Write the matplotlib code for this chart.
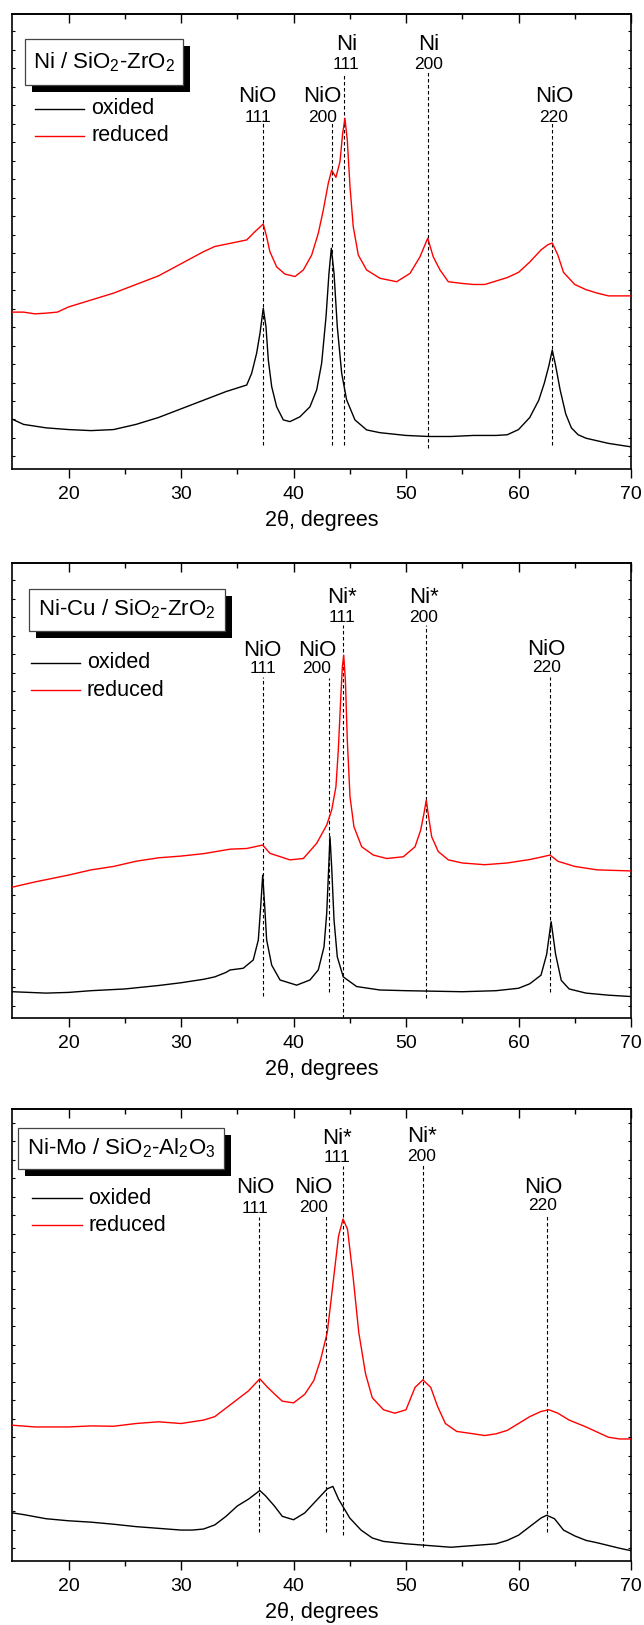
import matplotlib
matplotlib.use('Agg')
import matplotlib.pyplot as plt
from matplotlib.patches import Rectangle
import numpy as np

plt.rcParams['font.family'] = ['Liberation Sans', 'DejaVu Sans']
plt.rcParams['mathtext.fontset'] = 'custom'
plt.rcParams['mathtext.rm'] = 'Liberation Sans'
plt.rcParams['mathtext.it'] = 'Liberation Sans:italic'

# ---------------- data (2theta in degrees, intensity in arbitrary units) ----------------
p1_ox_x = [15, 16, 18, 20, 22, 24, 26, 28, 30, 32, 34, 35.84, 36.28, 36.72, 37.02, 37.31, 37.55, 37.76, 38.06,
           38.5, 39.09, 39.68, 40.57, 41.46, 42.06, 42.5, 42.89, 43.15, 43.36, 43.6, 43.89, 44.28, 44.72, 45.46,
           46.5, 47.68, 50, 52, 54, 56, 58, 59, 60, 61, 61.8, 62.3, 62.7, 63.0, 63.3, 63.7, 64.2, 64.7, 65.3,
           66, 68, 70]
p1_ox_y = [145, 130, 120, 115, 112, 115, 130, 150, 175, 200, 225, 244, 278, 336, 394, 466, 413, 316, 239,
           181, 143, 138, 152, 181, 230, 307, 442, 567, 640, 567, 413, 278, 201, 143,
           114, 106, 98, 95, 95, 98, 98, 100, 115, 150, 200, 250, 300, 345, 300, 230, 160, 120, 100,
           90, 75, 65]

p1_red_x = [15, 16, 17, 18, 19, 20, 22, 24, 26, 28, 30, 32, 33, 34.36, 35.84, 36.57, 37.31, 37.61, 37.9, 38.5,
            39.24, 40.13, 40.87, 41.61, 42.2, 42.65, 43.09, 43.39, 43.77, 44.13, 44.37, 44.57, 44.78, 45.02,
            45.31, 45.76, 46.5, 47.68, 49.17, 50.35, 51.24, 51.93, 52.42, 53.02, 53.76, 55, 56, 57, 58, 59,
            60, 61, 62, 62.6, 63.0, 63.5, 64, 65, 66, 67, 68, 70]
p1_red_y = [455, 455, 450, 452, 455, 470, 490, 510, 535, 560, 595, 630, 645, 654, 664, 688, 710, 673, 630, 586,
            565, 558, 577, 620, 683, 751, 828, 866, 845, 891, 973, 1016, 953, 818,
            702, 620, 577, 553, 543, 567, 615, 669, 615, 577, 543, 538, 535, 535, 545, 555,
            570, 600, 635, 650, 655, 620, 570, 535, 520, 510, 502, 502]

p2_ox_x = [15, 18, 20, 22, 25, 28, 30, 32, 33, 34, 34.36, 35.53, 36.42, 36.87, 37.08, 37.26, 37.44, 37.61, 38.06,
           38.8, 40.28, 41.46, 42.2, 42.71, 42.95, 43.13, 43.24, 43.39, 43.6, 43.89, 44.42, 45.61, 47.68, 50,
           55, 58, 60, 61, 62, 62.5, 62.9, 63.3, 63.8, 64.5, 66, 68, 70]
p2_ox_y = [77, 73, 75, 80, 85, 95, 103, 113, 120, 133, 140, 145, 169, 227, 323, 415, 323, 227, 154,
           111, 96, 111, 140, 207, 304, 439, 526, 439, 285, 178, 120, 92, 82, 80,
           77, 80, 87, 100, 125, 185, 280, 185, 110, 85, 73, 67, 63]

p2_red_x = [15, 17, 20, 22, 24, 26, 28, 30, 32, 34.36, 35.84, 37.26, 37.9, 39.68, 40.87, 42.06, 42.95, 43.39,
            43.77, 43.98, 44.19, 44.34, 44.46, 44.61, 44.78, 45.02, 45.37, 46.06, 47.09, 48.28, 49.76, 50.8,
            51.3, 51.6, 51.8, 52.01, 52.28, 52.87, 53.76, 55, 57, 59, 61, 62, 62.8, 63.5, 65, 67, 70]
p2_red_y = [380, 395, 415, 430, 440, 455, 465, 470, 477, 490, 492, 502, 478, 459, 463, 507, 560, 603,
            671, 777, 922, 1018, 1052, 980, 806, 642, 555, 497, 473, 463, 468, 497,
            545, 594, 632, 584, 526, 483, 459, 450, 445, 450, 460, 467, 473, 455, 440, 430, 427]

p3_ox_x = [15, 16, 18, 20, 22, 24, 26, 28, 30, 31, 32, 33, 34, 35, 36, 37.0, 37.5, 38.3, 39, 40, 41, 42, 43.0,
           43.5, 44, 45, 46, 47, 48, 50, 52, 54, 56, 58, 59, 60, 61, 62, 62.5, 63.2, 64, 65, 66, 67, 68, 69, 70]
p3_ox_y = [140, 135, 123, 117, 113, 107, 100, 95, 90, 90, 93, 105, 130, 160, 180, 205, 190, 160, 130, 120, 140, 175, 210,
           217, 180, 125, 90, 67, 57, 50, 45, 40, 45, 50, 60, 75, 100, 125, 133, 123, 90, 73, 60, 53, 45, 37, 30]

p3_red_x = [15, 17, 20, 22, 24, 26, 28, 30, 32, 33, 34, 35, 36, 37.0, 37.7, 38.5, 39, 40, 41, 41.8, 42.4, 43.0,
            43.5, 44.0, 44.4, 44.8, 45.3, 45.8, 46.4, 47, 48, 49, 50, 50.8, 51.5, 52.2, 52.8, 53.5, 54.5, 56,
            57, 58, 59, 60, 61, 62, 62.7, 63.5, 64.5, 66, 67, 68, 69, 70]
p3_red_y = [395, 390, 390, 393, 392, 400, 405, 400, 410, 420, 445, 470, 495, 530, 505, 480, 465, 460, 485, 525, 585, 665,
            805, 945, 995, 965, 825, 665, 545, 475, 440, 430, 440, 505, 527, 505, 450, 400, 377, 370,
            365, 370, 380, 400, 420, 435, 440, 430, 410, 390, 375, 360, 355, 355]

titles = [r'Ni / SiO$_2$-ZrO$_2$', r'Ni-Cu / SiO$_2$-ZrO$_2$', r'Ni-Mo / SiO$_2$-Al$_2$O$_3$']
series_names = ['oxided', 'reduced']

# reference reflections per panel: phase, hkl, 2theta
p1_refl_phase = ['NiO', 'NiO', 'Ni', 'Ni', 'NiO']
p1_refl_hkl = ['111', '200', '111', '200', '220']
p1_refl_pos = [37.3, 43.4, 44.5, 51.95, 63.0]

p2_refl_phase = ['NiO', 'NiO', 'Ni*', 'Ni*', 'NiO']
p2_refl_hkl = ['111', '200', '111', '200', '220']
p2_refl_pos = [37.26, 43.17, 44.42, 51.8, 62.8]

p3_refl_phase = ['NiO', 'NiO', 'Ni*', 'Ni*', 'NiO']
p3_refl_hkl = ['111', '200', '111', '200', '220']
p3_refl_pos = [36.97, 42.92, 44.42, 51.55, 62.52]

# ---------------- layout ----------------
W, H = 644, 1625
fig = plt.figure(figsize=(W / 100, H / 100), dpi=100)

ax_left_px, ax_right_px = 12.3, 631.0
panel_px = [(14.0, 469.3), (562.7, 1018.3), (1109.0, 1561.0)]
ylims = [1318, 1320, 1315]

lay = [
    dict(tx=[36.8, 42.55, 44.7, 52.0, 63.15],
         ty=[0.819, 0.819, 0.933, 0.933, 0.819], ny=[0.772, 0.772, 0.889, 0.889, 0.772],
         top=[0.768, 0.765, 0.870, 0.875, 0.765], bot=[0.053, 0.053, 0.053, 0.046, 0.053],
         box=(0.0212, 0.843, 0.2555, 0.102), leg_x=(0.0365, 0.1161, 0.1274), leg_y=(0.792, 0.733)),
    dict(tx=[37.26, 42.08, 44.27, 51.6, 62.45],
         ty=[0.808, 0.808, 0.924, 0.924, 0.810], ny=[0.767, 0.767, 0.879, 0.879, 0.769],
         top=[0.750, 0.746, 0.864, 0.864, 0.750], bot=[0.049, 0.057, 0.0, 0.045, 0.057],
         box=(0.0278, 0.851, 0.316, 0.092), leg_x=(0.0299, 0.1094, 0.1207), leg_y=(0.780, 0.720)),
    dict(tx=[36.6, 41.75, 43.9, 51.4, 62.18],
         ty=[0.827, 0.827, 0.935, 0.939, 0.827], ny=[0.779, 0.783, 0.892, 0.896, 0.787],
         top=[0.760, 0.768, 0.875, 0.878, 0.768], bot=[0.065, 0.065, 0.057, 0.030, 0.065],
         box=(0.0100, 0.867, 0.3317, 0.091), leg_x=(0.0318, 0.1127, 0.1224), leg_y=(0.802, 0.743)),
]

data = [
    (p1_ox_x, p1_ox_y, p1_red_x, p1_red_y, p1_refl_phase, p1_refl_hkl, p1_refl_pos),
    (p2_ox_x, p2_ox_y, p2_red_x, p2_red_y, p2_refl_phase, p2_refl_hkl, p2_refl_pos),
    (p3_ox_x, p3_ox_y, p3_red_x, p3_red_y, p3_refl_phase, p3_refl_hkl, p3_refl_pos),
]

colors = ['black', '#ff0000']
ax_w_px = ax_right_px - ax_left_px

for i, (top_px, bot_px) in enumerate(panel_px):
    ax = fig.add_axes([ax_left_px / W, (H - bot_px) / H, ax_w_px / W, (bot_px - top_px) / H])
    ah_px = bot_px - top_px
    ox_x, ox_y, red_x, red_y, phases, hkls, poss = data[i]
    L = lay[i]

    ax.plot(ox_x, ox_y, color=colors[0], lw=1.0, zorder=3)
    ax.plot(red_x, red_y, color=colors[1], lw=1.0, zorder=3)

    ax.set_xlim(15, 70)
    ax.set_ylim(0, ylims[i])
    ax.set_xticks([20, 30, 40, 50, 60, 70])
    ax.set_xticks([25, 35, 45, 55, 65], minor=True)
    upx = ylims[i] / ah_px
    ax.set_yticks(np.arange(12.8 * upx, ylims[i], 18.5 * upx))
    ax.set_yticklabels([])
    ax.tick_params(axis='x', which='major', direction='out', length=6.5, width=1.0,
                   labelsize=14, pad=5.5, top=False)
    ax.tick_params(axis='x', which='minor', direction='out', length=3.4, width=1.0, top=False)
    ax.tick_params(axis='y', which='major', direction='in', length=2.0, width=0.8,
                   left=True, right=True)
    sec = ax.secondary_xaxis('top')
    sec.set_xticks([20, 30, 40, 50, 60, 70])
    sec.set_xticks([25, 35, 45, 55, 65], minor=True)
    sec.tick_params(axis='x', which='major', direction='in', length=6.5, width=1.0, labelsize=0)
    sec.tick_params(axis='x', which='minor', direction='in', length=3.4, width=1.0)
    sec.set_xticklabels([])
    for s in ax.spines.values():
        s.set_linewidth(1.2)
    sec.spines['top'].set_linewidth(1.2)
    ax.set_xlabel('2θ, degrees', fontsize=15.5, labelpad=5)

    xtr = ax.get_xaxis_transform()
    for j in range(len(poss)):
        ax.plot([poss[j], poss[j]], [L['bot'][j], L['top'][j]], transform=xtr,
                color='black', lw=0.8, ls=(0, (3.2, 2.2)), zorder=2)
        ax.text(L['tx'][j], L['ty'][j], phases[j], transform=xtr, ha='center', va='center',
                fontsize=16, zorder=4)
        ax.text(L['tx'][j], L['ny'][j], hkls[j], transform=xtr, ha='center', va='center',
                fontsize=12.5, zorder=4)

    bx, by, bw, bh = L['box']
    dx, dy = 7.0 / ax_w_px, 7.0 / ah_px
    ax.add_patch(Rectangle((bx + dx, by - dy), bw, bh, transform=ax.transAxes,
                           facecolor='black', edgecolor='black', lw=0, zorder=5))
    ax.add_patch(Rectangle((bx, by), bw, bh, transform=ax.transAxes,
                           facecolor='white', edgecolor='#444444', lw=0.9, zorder=6))
    ax.text(bx + bw / 2, by + bh / 2, titles[i], transform=ax.transAxes, ha='center',
            va='center', fontsize=16, zorder=7)

    lx0, lx1, ltx = L['leg_x']
    for k, name in enumerate(series_names):
        yy = L['leg_y'][k]
        ax.plot([lx0, lx1], [yy, yy], transform=ax.transAxes, color=colors[k], lw=1.0, zorder=5)
        ax.text(ltx, yy, name, transform=ax.transAxes, ha='left', va='center', fontsize=15.5, zorder=5)

fig.savefig('out.png', dpi=100)
